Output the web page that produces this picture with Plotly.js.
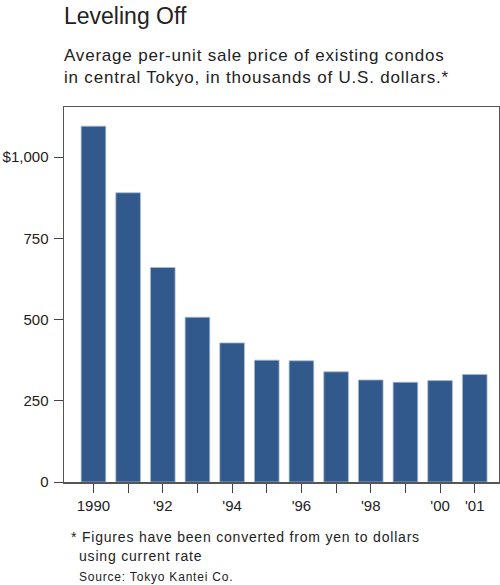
<!DOCTYPE html>
<html>
<head>
<meta charset="utf-8">
<script src="https://cdn.plot.ly/plotly-3.0.1.min.js"></script>
<style>
  html, body { margin: 0; padding: 0; background: #fff; }
  #chart { width: 500px; height: 585px; }
  /* the original lettering runs a bit wider than Liberation Sans */
  .annotation:not([data-index="0"]) text.annotation-text { letter-spacing: 0.8px; }
</style>
</head>
<body>
<div id="chart"></div>
<script>
'use strict';

// Average per-unit price, thousands of US dollars
var years = ['1990', '1991', '1992', '1993', '1994', '1995', '1996', '1997', '1998', '1999', '2000', '2001'];
var prices = [1095, 890, 660, 507, 428, 375, 373, 339, 314, 307, 312, 331];
var yearLabels = ['1990', '', "'92", '', "'94", '', "'96", '', "'98", '', "'00", "'01"];
var yTickVals = [0, 250, 500, 750, 1000];
var yTickText = ['0', '250', '500', '750', '$1,000'];

var font = 'Liberation Sans, Arial, Helvetica, sans-serif';
var ink = '#222';

// pixel helpers, plot area spans x 64..499 and y 107..482
function py (pixel) { return (482 - pixel) / 375; }
function px (pixel) { return (pixel - 64) / 435; }

function note (text, x, y, size) {
    return {
        text: text,
        xref: 'paper', yref: 'paper',
        x: px(x), y: py(y),
        xanchor: 'left', yanchor: 'middle',
        align: 'left',
        showarrow: false,
        font: { size: size, color: ink }
    };
}

var trace = {
    type: 'bar',
    x: years,
    y: prices,
    marker: {
        color: '#32598b',
        line: { color: '#a7b9d0', width: 0.8 }
    },
    hoverinfo: 'none'
};

var layout = {
    width: 500,
    height: 585,
    margin: { l: 64, r: 1, t: 107, b: 103 },
    paper_bgcolor: '#fff',
    plot_bgcolor: '#fff',
    showlegend: false,
    bargap: 0.29,
    font: { family: font, color: ink, size: 15 },
    xaxis: {
        type: 'category',
        range: [-0.85, 11.7],
        tickvals: years,
        ticktext: yearLabels,
        ticks: 'outside',
        ticklen: 9,
        tickwidth: 1,
        tickcolor: '#444',
        showline: true,
        mirror: true,
        linecolor: '#555',
        linewidth: 1.5,
        showgrid: false,
        zeroline: false,
        tickfont: { size: 15, color: ink }
    },
    yaxis: {
        range: [0, 1154],
        tickvals: yTickVals,
        ticktext: yTickText,
        ticks: 'outside',
        ticklen: 9,
        tickwidth: 1,
        tickcolor: '#444',
        ticklabelstandoff: 2,
        showline: true,
        mirror: true,
        linecolor: '#555',
        linewidth: 1.5,
        showgrid: false,
        zeroline: false,
        tickfont: { size: 15, color: ink }
    },
    annotations: [
        note('Leveling Off', 62, 16, 23),
        note('Average per-unit sale price of existing condos<br>in central Tokyo, in thousands of U.S. dollars.*', 62, 66, 17),
        note('* Figures have been converted from yen to dollars', 69, 537, 14),
        note('using current rate', 77, 556, 14),
        note('Source: Tokyo Kantei Co.', 77, 577, 12)
    ]
};

Plotly.newPlot(document.getElementById('chart'), [trace], layout, { displayModeBar: false, staticPlot: true });
</script>
</body>
</html>
